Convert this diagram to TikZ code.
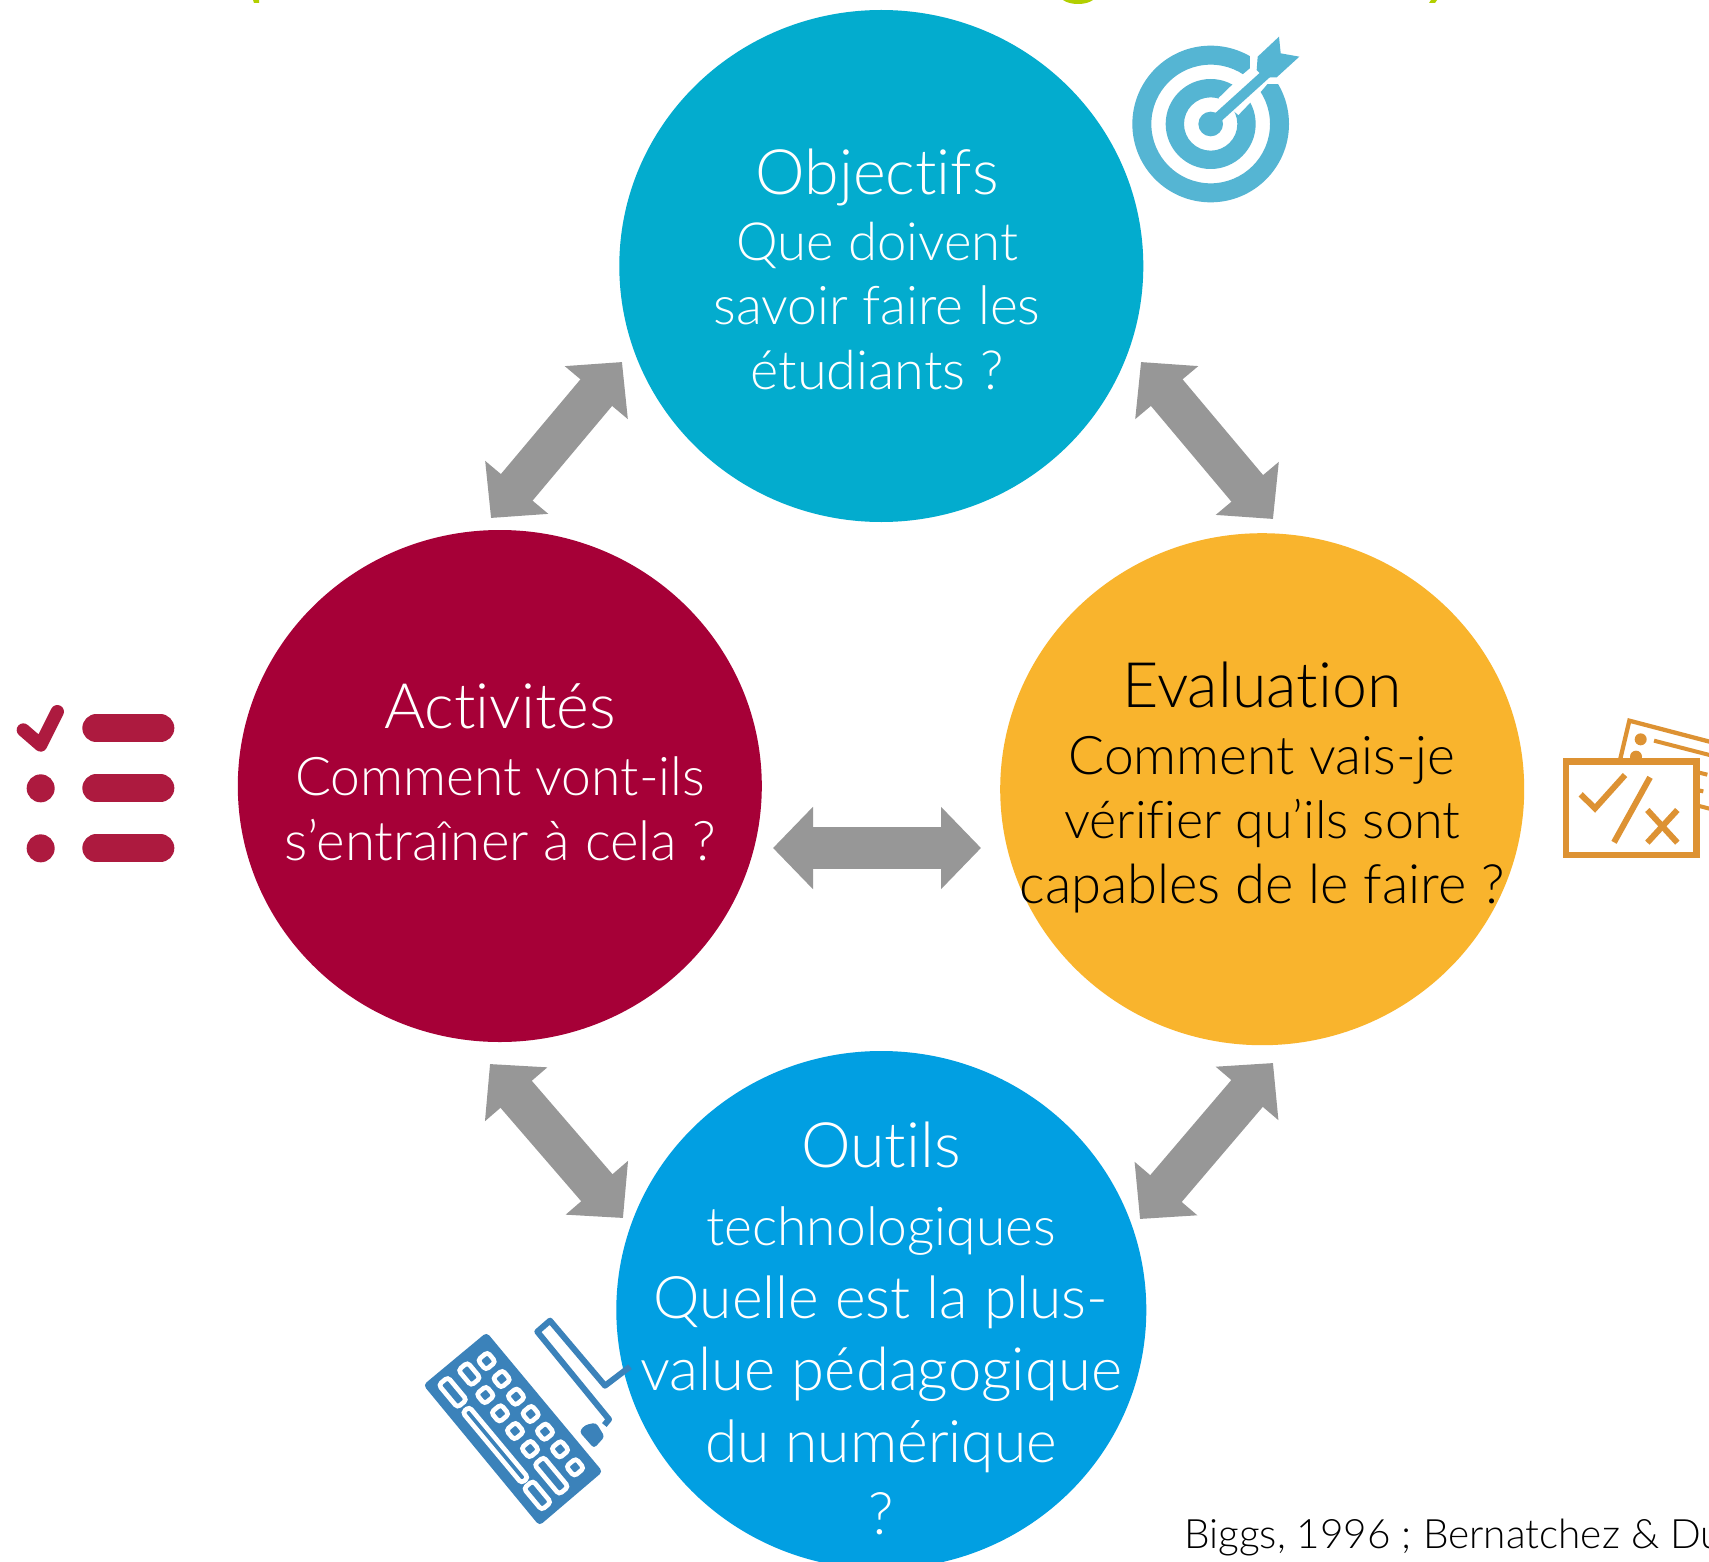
\documentclass[tikz,border=0pt]{standalone}
\usepackage{fontspec}
\setmainfont{Lato Light}[Ligatures=NoCommon]
\usetikzlibrary{shapes.geometric,arrows.meta}
\definecolor{cObj}{HTML}{03ACCE}
\definecolor{cAct}{HTML}{A60037}
\definecolor{cEva}{HTML}{F9B42D}
\definecolor{cOut}{HTML}{019FE2}
\definecolor{cArr}{HTML}{979797}
\definecolor{cTgt}{HTML}{55B5D3}
\definecolor{cChk}{HTML}{AD1A3F}
\definecolor{cTst}{HTML}{DD9233}
\definecolor{cKbd}{HTML}{3B82BA}
\definecolor{cGrn}{HTML}{B2CF00}
\newcommand{\fsz}[1]{\fontsize{#1}{#1}\selectfont}
\newcommand{\kbkey}[4]{\draw[keybox,shift={(#1,#2)},rotate=-50.2] (-#3,-#4) rectangle (#3,#4);}
\tikzset{
  bubble/.style={ellipse,inner sep=0pt,minimum width=393pt,minimum height=384pt},
  title/.style={anchor=base,inner sep=0pt,font=\fsz{47}},
  body/.style={anchor=base,inner sep=0pt,font=\fsz{40}},
  big/.style={anchor=base,inner sep=0pt,font=\fsz{44}},
  link/.style={draw=cArr,line width=31pt,{Triangle[length=30pt,width=60pt]}-{Triangle[length=30pt,width=60pt]}},
  keybox/.style={draw=white,fill=cKbd,line width=3.5pt,rounded corners=2.5pt},
  zoomed/.style={x=.25pt,y=-.25pt}
}
\begin{document}
\begin{tikzpicture}[x=.75pt,y=-.75pt]
\useasboundingbox (0,0) rectangle (1709,1562);
\clip (0,0) rectangle (1709,1562);
\fill[white] (0,0) rectangle (1709,1562);
% clipped remains of a heading
\fill[cGrn] (1078,-5) ellipse [x radius=18,y radius=9];
\fill[cGrn] (253,0) -- (259,0) -- (259,3) -- (254,3) -- cycle;
\fill[cGrn] (1431,0) -- (1437,0) -- (1435,3) -- (1429,3) -- cycle;
% bubbles
\node[bubble,fill=cObj] (obj) at (881.3,266) {};
\node[bubble,fill=cAct] (act) at (499.8,786) {};
\node[bubble,fill=cEva] (eva) at (1262.2,789.2) {};
\node[bubble,fill=cOut,minimum width=397.5pt,minimum height=388.5pt] (out) at (881.3,1310) {};
% links
\coordinate (l1a) at (622,362); \coordinate (l1b) at (491,518);
\coordinate (l2a) at (1141,362); \coordinate (l2b) at (1273,519);
\coordinate (l3a) at (490,1064); \coordinate (l3b) at (623,1218);
\coordinate (l4a) at (1273,1063); \coordinate (l4b) at (1140,1219);
\coordinate (l5a) at (773,848); \coordinate (l5b) at (981,848);
\draw[link] (l1a) -- (l1b);
\draw[link] (l2a) -- (l2b);
\draw[link] (l3a) -- (l3b);
\draw[link] (l4a) -- (l4b);
\draw[link] (l5a) -- (l5b);
% texts
\begin{scope}[text=white]
\node[title] (t1) at (877,195) {Objectifs};
\node[body,font=\fsz{39.5}] (t2) at (877,261) {Que doivent};
\node[body] (t3) at (877,325) {savoir faire les};
\node[body,font=\fsz{40.5}] (t4) at (877,389) {étudiants ?};
\node[title] (t5) at (500,728) {Activités};
\node[body] (t6) at (500,795) {Comment vont-ils};
\node[body,font=\fsz{41}] (t7) at (500,860) {s\char39 entraîner à cela ?};
\node[title] (t8) at (881,1167) {Outils};
\node[body] (t9) at (881,1245) {technologiques};
\node[big] (t10) at (881,1318) {Quelle est la plus-};
\node[big,font=\fsz{44.8}] (t11) at (881,1390) {value pédagogique};
\node[big] (t12) at (881,1462) {du numérique};
\node[big] (t13) at (881,1534) {?};
\end{scope}
\begin{scope}[text=black]
\node[title] (t14) at (1262,707) {Evaluation};
\node[body] (t15) at (1262,774) {Comment vais-je};
\node[body,font=\fsz{39}] (t16) at (1262,838) {vérifier qu’ils sont};
\node[body,font=\fsz{40.7}] (t17) at (1262,903) {capables de le faire ?};
\node[anchor=base west,inner sep=0pt,font=\fsz{30.4}] (t18) at (1184,1548) {Biggs, 1996 ; Bernatchez \& Du};
\end{scope}
% target icon
\begin{scope}[shift={(1110,20)},zoomed]
\fill[cTgt,even odd rule] (302,312) circle (235) (302,312) circle (178);
\fill[cTgt,even odd rule] (302,312) circle (135) (302,312) circle (80);
\fill[white] (325,235) -- (400,162) -- (420,145) -- (420,100) -- (530,90) -- (505,192) -- (472,192) -- (455,212) -- (385,285) -- cycle;
\fill[cTgt] (302,312) circle (37);
\draw[cTgt,line width=7.5pt] (302,312) -- (470,160);
\fill[cTgt] (507,50) -- (512,100) -- (568,110) -- (500,172) -- (462,172) -- (440,150) -- (443,110) -- cycle;
\end{scope}
% checklist icon
\begin{scope}[shift={(0,690)},zoomed]
\draw[cChk,line width=10pt,line cap=round,line join=round] (70,120) -- (122,165) -- (172,65);
\fill[cChk] (122,295) circle (42);
\fill[cChk] (122,475) circle (42);
\draw[cChk,line width=21pt,line cap=round] (289,115) -- (481,115);
\draw[cChk,line width=21pt,line cap=round] (289,295) -- (481,295);
\draw[cChk,line width=21pt,line cap=round] (289,475) -- (481,475);
\end{scope}
% test sheets icon
\begin{scope}[shift={(1550,700)},zoomed]
\draw[cTst,line width=3.2pt] (210,180) -- (238,62) -- (490,128);
\fill[cTst] (272,118) circle (18);
\fill[cTst] (258,170) circle (18);
\draw[cTst,line width=3pt] (312,122) -- (490,168);
\draw[cTst,line width=3pt] (440,216) -- (472,224);
\draw[cTst,line width=3pt] (440,270) -- (460,274);
\draw[cTst,line width=3pt] (440,316) -- (490,329);
\draw[cTst,fill=white,line width=5pt] (48,185) rectangle (440,465);
\draw[cTst,line width=4.5pt] (92,283) -- (135,325) -- (225,225);
\draw[cTst,line width=4.5pt] (300,232) -- (192,427);
\draw[cTst,line width=4.5pt] (292,330) -- (382,428);
\draw[cTst,line width=4.5pt] (382,330) -- (292,428);
\end{scope}
% keyboard icon
\begin{scope}[shift={(410,1300)},zoomed]
\draw[cKbd,line width=4.5pt,line join=round] (660,200) -- (585,257) -- (420,62) -- (382,95) -- (597,358) -- (583,375);
\fill[cKbd,rounded corners=2.5pt] (508,395) -- (525,375) -- (558,368) -- (584,410) -- (552,445) -- cycle;
\fill[cKbd,rounded corners=3pt] (230,97) -- (578,515) -- (388,677) -- (40,255) -- cycle;
\kbkey{230}{183}{19}{19}
\kbkey{275}{237}{19}{19}
\kbkey{318}{290}{19}{19}
\kbkey{362}{342}{19}{19}
\kbkey{405}{395}{19}{19}
\kbkey{450}{448}{19}{19}
\kbkey{495}{502}{19}{19}
\kbkey{226}{285}{19}{19}
\kbkey{270}{340}{19}{19}
\kbkey{315}{393}{19}{19}
\kbkey{360}{447}{19}{19}
\kbkey{178}{222}{30}{18}
\kbkey{128}{277}{44}{18}
\kbkey{256}{435}{138}{13}
\kbkey{424}{527}{58}{18}
\kbkey{382}{586}{42}{18}
\end{scope}
\end{tikzpicture}
\end{document}
